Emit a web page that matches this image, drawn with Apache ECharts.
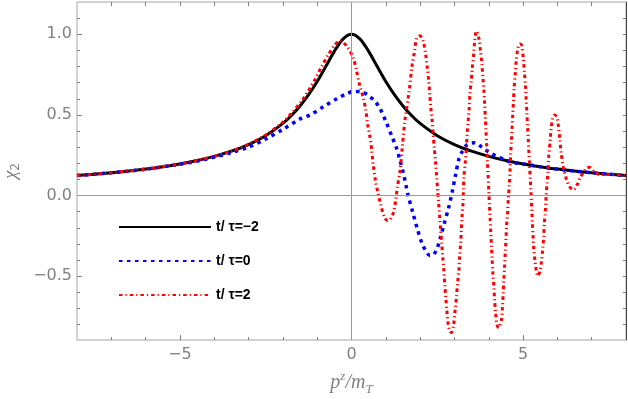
<!DOCTYPE html>
<html>
<head>
<meta charset="utf-8">
<script src="https://cdn.jsdelivr.net/npm/echarts@6/dist/echarts.min.js"></script>
<style>
html, body { margin: 0; padding: 0; background: #fff; }
#chart { width: 628px; height: 399px; }
</style>
</head>
<body>
<div id="chart"></div>
<script>
// t/τ=-2 (solid black)
var blackX = [-8, -7.5, -7, -6.5, -6, -5.5, -5, -4.5, -4, -3.5, -3, -2.5, -2, -1.75, -1.5, -1.25, -1, -0.75, -0.5, -0.25, 0,
	0.25, 0.5, 0.75, 1, 1.25, 1.5, 1.75, 2, 2.5, 3, 3.5, 4, 4.5, 5, 5.5, 6, 6.5, 7, 7.5, 8];
var blackY = [0.124, 0.132, 0.141, 0.152, 0.164, 0.179, 0.196, 0.217, 0.243, 0.275, 0.316, 0.371, 0.447, 0.496, 0.555, 0.625, 0.707, 0.8, 0.894, 0.97, 1.0,
	0.97, 0.894, 0.8, 0.707, 0.625, 0.555, 0.496, 0.447, 0.371, 0.316, 0.275, 0.243, 0.217, 0.196, 0.179, 0.164, 0.152, 0.141, 0.132, 0.124];

// t/τ=0 (blue dotted)
var blueX = [-8, -7, -6, -5, -4.5, -4, -3.5, -3, -2.5, -2, -1.5, -1.2, -0.82, -0.43, -0.15, 0.05, 0.3, 0.49, 0.68, 0.83,
	1.02, 1.17, 1.31, 1.41, 1.51, 1.6, 1.65, 1.78, 1.91, 2.06, 2.17, 2.28, 2.37, 2.49, 2.57, 2.7, 2.83, 2.94, 3.03, 3.13,
	3.22, 3.37, 3.59, 3.8, 4.0, 4.19, 4.43, 4.67, 5, 5.5, 6, 7, 8];
var blueY = [0.124, 0.141, 0.163, 0.194, 0.213, 0.238, 0.266, 0.3, 0.35, 0.41, 0.475, 0.5, 0.55, 0.6, 0.63, 0.645, 0.643, 0.62, 0.586, 0.54,
	0.45, 0.37, 0.295, 0.22, 0.14, 0.05, 0.0, -0.1, -0.2, -0.3, -0.344, -0.372, -0.37, -0.33, -0.278, -0.175, -0.076, 0.027, 0.125, 0.226,
	0.27, 0.315, 0.327, 0.3, 0.27, 0.247, 0.226, 0.206, 0.196, 0.179, 0.164, 0.141, 0.124];

// t/τ=2 (red dash-dot)
var redX = [-8, -7, -6, -5, -4, -3.5, -3, -2.5, -2, -1.75, -1.45, -1.26, -1.06, -0.87, -0.67, -0.48, -0.33, -0.14, 0.05, 0.15,
	0.23, 0.34, 0.42, 0.47, 0.54, 0.59, 0.63, 0.7, 0.76, 0.85, 0.97, 1.05, 1.12, 1.22, 1.29, 1.34, 1.41, 1.48, 1.555, 1.68,
	1.77, 1.83, 1.9, 1.99, 2.09, 2.16, 2.21, 2.25, 2.28, 2.31, 2.35, 2.38, 2.41, 2.45, 2.48, 2.51, 2.54, 2.57, 2.6, 2.63,
	2.66, 2.69, 2.72, 2.75, 2.78, 2.82, 2.87, 2.91, 2.97, 3.02, 3.06, 3.09, 3.13, 3.15, 3.18, 3.2, 3.22, 3.25, 3.26, 3.28,
	3.32, 3.35, 3.37, 3.4, 3.43, 3.45, 3.49, 3.52, 3.56, 3.59, 3.64, 3.71, 3.76, 3.8, 3.83, 3.86, 3.88, 3.9, 3.92, 3.94,
	3.96, 3.98, 4.0, 4.02, 4.04, 4.06, 4.08, 4.1, 4.12, 4.15, 4.17, 4.2, 4.24, 4.29, 4.37, 4.4, 4.42, 4.44, 4.46, 4.48,
	4.5, 4.52, 4.55, 4.57, 4.6, 4.62, 4.64, 4.66, 4.68, 4.7, 4.72, 4.74, 4.77, 4.8, 4.85, 4.91, 4.96, 5.01, 5.04, 5.07,
	5.09, 5.11, 5.13, 5.15, 5.17, 5.19, 5.21, 5.23, 5.24, 5.26, 5.27, 5.29, 5.31, 5.35, 5.39, 5.43, 5.49, 5.53, 5.57, 5.6,
	5.62, 5.65, 5.67, 5.7, 5.72, 5.75, 5.79, 5.82, 5.87, 5.93, 5.99, 6.03, 6.07, 6.11, 6.17, 6.26, 6.35, 6.47, 6.58, 6.66,
	6.76, 6.85, 6.93, 7.08, 7.25, 7.5, 8];
var redY = [0.124, 0.141, 0.164, 0.196, 0.243, 0.276, 0.318, 0.375, 0.455, 0.51, 0.586, 0.648, 0.72, 0.8, 0.875, 0.936, 0.96, 0.926, 0.854, 0.77,
	0.69, 0.607, 0.525, 0.44, 0.36, 0.278, 0.196, 0.09, 0.027, -0.056, -0.14, -0.155, -0.15, -0.107, -0.027, 0.057, 0.144, 0.3, 0.463, 0.648,
	0.813, 0.885, 0.977, 0.99, 0.957, 0.875, 0.79, 0.71, 0.63, 0.545, 0.463, 0.38, 0.3, 0.206, 0.123, 0.03, -0.05, -0.134, -0.216, -0.3,
	-0.385, -0.463, -0.556, -0.638, -0.72, -0.8, -0.844, -0.85, -0.81, -0.71, -0.628, -0.545, -0.463, -0.38, -0.3, -0.216, -0.134, -0.045, 0.04, 0.123,
	0.216, 0.298, 0.38, 0.463, 0.545, 0.628, 0.71, 0.79, 0.875, 0.957, 1.02, 0.977, 0.895, 0.813, 0.73, 0.648, 0.566, 0.483, 0.4, 0.31,
	0.216, 0.134, 0.03, -0.062, -0.144, -0.237, -0.32, -0.4, -0.483, -0.566, -0.648, -0.73, -0.8, -0.82, -0.77, -0.69, -0.607, -0.525, -0.443, -0.36,
	-0.278, -0.185, -0.103, -0.02, 0.072, 0.154, 0.257, 0.34, 0.42, 0.504, 0.586, 0.668, 0.75, 0.833, 0.915, 0.94, 0.93, 0.843, 0.76, 0.68,
	0.597, 0.514, 0.43, 0.35, 0.267, 0.185, 0.1, 0.03, -0.03, -0.113, -0.165, -0.247, -0.33, -0.41, -0.47, -0.5, -0.47, -0.42, -0.34, -0.257,
	-0.175, -0.093, -0.01, 0.082, 0.134, 0.247, 0.34, 0.42, 0.483, 0.5, 0.48, 0.432, 0.35, 0.267, 0.175, 0.103, 0.056, 0.035, 0.068, 0.109,
	0.144, 0.17, 0.175, 0.144, 0.13, 0.131, 0.124];

var seriesNames = ['t/ τ=−2', 't/ τ=0', 't/ τ=2'];

// 刻度
var xMajor = [-5, 0, 5];
var xMinor = [-7, -6, -4, -3, -2, -1, 1, 2, 3, 4, 6, 7];
var yMajor = [-0.5, 0, 0.5, 1];
var yMinor = [-0.8, -0.7, -0.6, -0.4, -0.3, -0.2, -0.1, 0.1, 0.2, 0.3, 0.4, 0.6, 0.7, 0.8, 0.9, 1.1];

var xMin = -8, xMax = 8, yMin = -0.896, yMax = 1.2;

function zip(xs, ys) {
	var out = [];
	for (var i = 0; i < xs.length; i++) out.push([xs[i], ys[i]]);
	return out;
}

function minus(s) {
	return String(s).replace('-', '−');
}

var gray = '#808080';
var labelFont = { color: gray, fontSize: 16, fontFamily: 'DejaVu Sans, sans-serif' };
var serif = 'Liberation Serif, serif';

// 坐标轴：主刻度、次刻度、上边和右边的框刻度
function xAxisOf(pos, ticks, len, withLabels) {
	var ax = {
		type: 'value', min: xMin, max: xMax, position: pos,
		axisLine: { show: false, onZero: false },
		splitLine: { show: false },
		axisTick: { show: true, inside: true, length: len, customValues: ticks, lineStyle: { color: gray } },
		axisLabel: { show: false }
	};
	if (withLabels) {
		ax.axisLabel = Object.assign({ show: true, customValues: ticks, margin: 7,
			formatter: function (v) { return minus(v); } }, labelFont);
		ax.name = '{i|p}{sup|z}{i|/m}{sub|T}';
		ax.nameLocation = 'middle';
		ax.nameGap = 30;
		ax.nameTextStyle = {
			rich: {
				i: { fontSize: 20, fontStyle: 'italic', fontFamily: serif, color: gray, lineHeight: 26 },
				sup: { fontSize: 13, fontStyle: 'italic', fontFamily: serif, color: gray, verticalAlign: 'top', lineHeight: 26, padding: [0, 0, 10, 0] },
				sub: { fontSize: 13, fontStyle: 'italic', fontFamily: serif, color: gray, verticalAlign: 'bottom', lineHeight: 26, padding: [8, 0, 0, 0] }
			}
		};
	}
	return ax;
}

function yAxisOf(pos, ticks, len, withLabels, lineColor) {
	var ax = {
		type: 'value', min: yMin, max: yMax, position: pos,
		axisLine: { show: !!lineColor, onZero: false, lineStyle: { color: lineColor || gray, width: 1 } },
		splitLine: { show: false },
		axisTick: { show: true, inside: true, length: len, customValues: ticks, lineStyle: { color: gray } },
		axisLabel: { show: false }
	};
	if (withLabels) {
		ax.axisLabel = Object.assign({ show: true, customValues: ticks, margin: 5,
			formatter: function (v) { return minus(v.toFixed(1)); } }, labelFont);
		ax.name = '{c|χ}{s|2}';
		ax.nameLocation = 'middle';
		ax.nameRotate = 90;
		ax.nameGap = 49;
		ax.nameTextStyle = {
			rich: {
				c: { fontSize: 19, fontStyle: 'italic', fontFamily: serif, color: gray, lineHeight: 22 },
				s: { fontSize: 12, fontFamily: 'DejaVu Sans, sans-serif', color: gray, verticalAlign: 'bottom', lineHeight: 22, padding: [8, 0, 0, 0] }
			}
		};
	}
	return ax;
}

var chart = echarts.init(document.getElementById('chart'));

chart.setOption({
	animation: false,
	backgroundColor: '#fff',
	grid: {
		left: 77, right: 2, top: 2, bottom: 59, show: true, borderColor: '#a6a6a6', borderWidth: 1,
		outerBoundsMode: 'none'
	},
	legend: {
		data: seriesNames,
		orient: 'vertical',
		left: 113, top: 215,
		itemWidth: 92, itemHeight: 12, itemGap: 20,
		itemStyle: { opacity: 0 },
		textStyle: { color: '#000', fontSize: 14, fontWeight: 'bold', fontFamily: 'Liberation Sans, Arial, sans-serif' }
	},
	xAxis: [
		xAxisOf('bottom', xMajor, 5, true),
		xAxisOf('bottom', xMinor, 3, false),
		xAxisOf('top', xMajor.concat(xMinor), 4, false)
	],
	yAxis: [
		yAxisOf('left', yMajor, 5, true),
		yAxisOf('left', yMinor, 3, false),
		yAxisOf('right', yMajor.concat(yMinor), 3, false, '#444')
	],
	series: [{
		// 零线
		type: 'line', data: [], silent: true, z: 1,
		markLine: {
			silent: true, symbol: 'none', animation: false,
			label: { show: false },
			lineStyle: { color: '#999', type: 'solid', width: 1 },
			data: [{ xAxis: 0 }, { yAxis: 0 }]
		}
	}, {
		name: seriesNames[0], type: 'line', data: zip(blackX, blackY),
		smooth: 0.3, symbol: 'none', z: 2,
		lineStyle: { color: '#000', width: 3 }, itemStyle: { color: '#000' }
	}, {
		name: seriesNames[1], type: 'line', data: zip(blueX, blueY),
		smooth: 0.3, symbol: 'none', z: 3,
		lineStyle: { color: '#0000ff', width: 3.5, type: [3.5, 4.5] }, itemStyle: { color: '#0000ff' }
	}, {
		name: seriesNames[2], type: 'line', data: zip(redX, redY),
		smooth: 0.3, symbol: 'none', z: 4,
		lineStyle: { color: '#ff0000', width: 3, type: [3.5, 3, 1.2, 3] }, itemStyle: { color: '#ff0000' }
	}]
});
</script>
</body>
</html>
